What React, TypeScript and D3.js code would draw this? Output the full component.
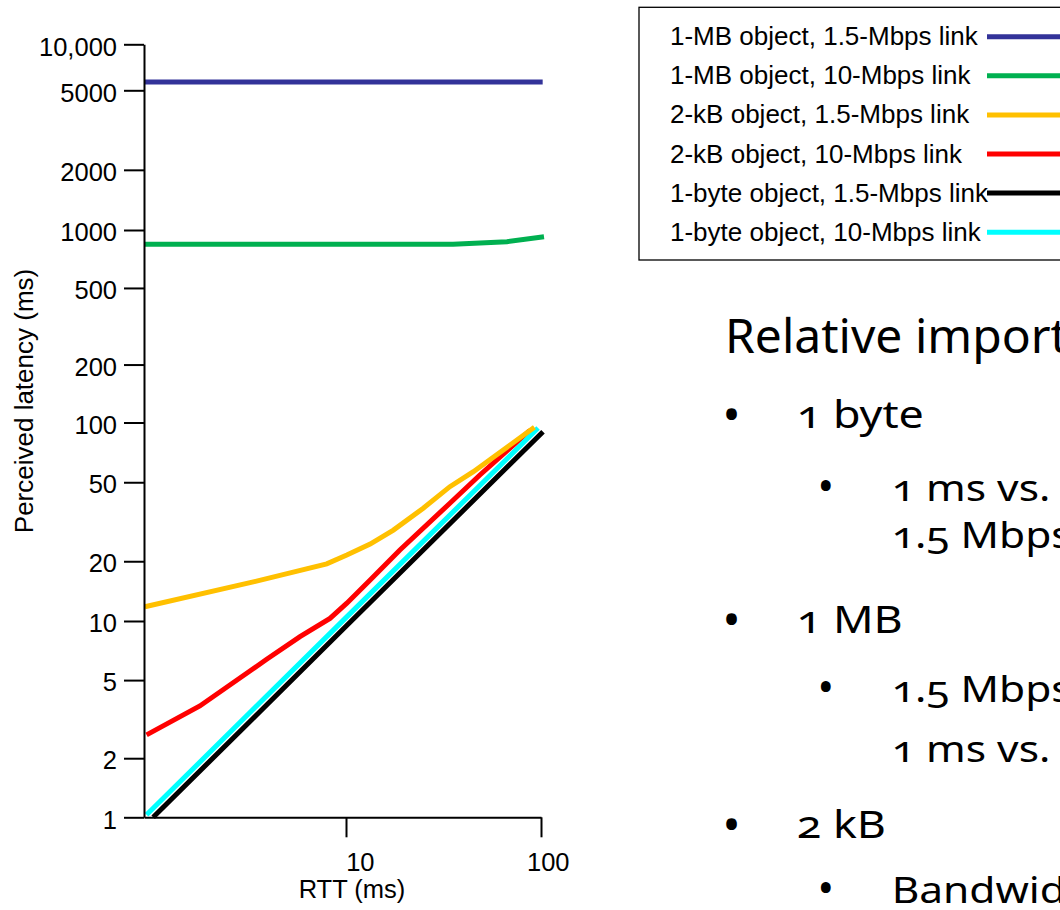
import React, { useRef, useEffect } from 'react';
import * as d3 from 'd3';

// RTT (ms) / perceived latency (ms) pairs
const rttMB15 = [1, 10, 102];
const latMB15 = [5670, 5670, 5670];
const rttMB10 = [1, 10, 35.4, 66.9, 103.6];
const latMB10 = [843, 843, 843, 869, 923];
const rttKB15 = [1.01, 3.35, 8.03, 10.1, 13.3, 17.5, 24.9, 34.1, 45.0, 92.5];
const latKB15 = [11.8, 15.6, 19.4, 21.5, 24.4, 28.7, 37.0, 47.5, 56.5, 94.6];
const rttKB10 = [1.03, 1.89, 4.05, 5.92, 8.33, 10.1, 13.3, 18.9, 34.1, 48.6, 87.8];
const latKB10 = [2.63, 3.69, 6.38, 8.32, 10.3, 12.3, 16.1, 22.8, 39.2, 54.4, 91.2];
const rttB15 = [1.11, 10, 102.4];
const latB15 = [1, 9.4, 89.9];
const rttB10 = [1.03, 10, 96.6];
const latB10 = [1.03, 10.4, 93.8];

const seriesLabels = [
  '1-MB object, 1.5-Mbps link',
  '1-MB object, 10-Mbps link',
  '2-kB object, 1.5-Mbps link',
  '2-kB object, 10-Mbps link',
  '1-byte object, 1.5-Mbps link',
  '1-byte object, 10-Mbps link',
];
const seriesColors = ['#333399', '#00b050', '#ffc000', '#ff0000', '#000000', '#00ffff'];
const drawOrder = [0, 1, 3, 5, 4, 2];

const yTicks = [1, 2, 5, 10, 20, 50, 100, 200, 500, 1000, 2000, 5000, 10000];
const yTickLabels = ['1', '2', '5', '10', '20', '50', '100', '200', '500', '1000', '2000', '5000', '10,000'];
const xTicks = [10, 100];
const xTickLabels = ['10', '100'];

// bullet text on the slide, cut by the right edge as in the original
const slideLines = [
  { level: 0, text: 'Relative importance' },
  { level: 1, text: '1 byte' },
  { level: 2, text: '1 ms vs.' },
  { level: 3, text: '1.5 Mbps' },
  { level: 1, text: '1 MB' },
  { level: 2, text: '1.5 Mbps' },
  { level: 3, text: '1 ms vs.' },
  { level: 1, text: '2 kB' },
  { level: 2, text: 'Bandwidth' },
];

const W = 1060;
const H = 910;
const FONT = '"Liberation Sans", Arial, sans-serif';
const SLIDE_FONT = '"Noto Sans", "Open Sans", sans-serif';

const App = () => {
  const xAxisRef = useRef(null);
  const yAxisRef = useRef(null);

  // the scan is slightly uneven, so the log scales are pinned at several ticks
  const xScale = d3.scaleLog().domain([1, 10, 100]).range([144, 346, 541]);
  const yScale = d3.scaleLog()
    .domain([1, 10, 100, 1000, 5000, 10000])
    .range([817.3, 621, 422.5, 230, 90.3, 44.3]);

  const series = [
    [rttMB15, latMB15], [rttMB10, latMB10], [rttKB15, latKB15],
    [rttKB10, latKB10], [rttB15, latB15], [rttB10, latB10],
  ].map(([xs, ys]) => xs.map((x, i) => [x, ys[i]]));

  const line = d3.line()
    .x(d => xScale(d[0]))
    .y(d => yScale(d[1]));

  useEffect(() => {
    const yAxis = d3.axisLeft(yScale)
      .tickValues(yTicks)
      .tickFormat((d, i) => yTickLabels[i])
      .tickSize(20)
      .tickSizeOuter(0)
      .tickPadding(7);
    const gy = d3.select(yAxisRef.current).call(yAxis);
    gy.attr('font-family', FONT).attr('font-size', 25.5);
    gy.selectAll('path, line').attr('stroke', '#000').attr('stroke-width', 2);
    gy.selectAll('text').attr('fill', '#000').attr('dy', '0.42em');

    const xAxis = d3.axisBottom(xScale)
      .tickValues(xTicks)
      .tickFormat((d, i) => xTickLabels[i])
      .tickSize(20)
      .tickSizeOuter(0)
      .tickPadding(16);
    const gx = d3.select(xAxisRef.current).call(xAxis);
    gx.attr('font-family', FONT).attr('font-size', 25.5);
    gx.selectAll('path, line').attr('stroke', '#000').attr('stroke-width', 2);
    gx.selectAll('text').attr('fill', '#000').attr('text-anchor', 'end').attr('dx', 28);
  }, []);

  const legendTop = 36.7;
  const legendStep = 39.1;

  // level 0 = heading, 1 = bullet, 2 = sub bullet, 3 = sub bullet continuation
  const levelX = [725, 796.7, 891.7, 891.7];
  const levelSize = [48, 39, 36, 36];
  const levelStretch = [1, 1.15, 1.18, 1.18];
  const bulletX = [null, 722.5, 817.5, null];
  const bulletSize = [0, 48, 44, 0];
  const bulletShift = [0, 3, 1, 0];
  const slideBaselines = [353.3, 428.3, 500.7, 548.3, 633.3, 701.7, 761.7, 838.3, 903];

  return (
    <svg width={W} height={H} style={{ position: 'absolute', left: 0, top: 0, background: '#fff' }}>
      <rect x={0} y={0} width={W} height={H} fill="#fff" />

      {/* plot */}
      <g fill="none" strokeWidth={5}>
        {drawOrder.map(i => (
          <path key={i} d={line(series[i])} stroke={seriesColors[i]} />
        ))}
      </g>
      <g ref={yAxisRef} transform={`translate(${xScale(1)},0)`} />
      <g ref={xAxisRef} transform={`translate(0,${yScale(1)})`} />

      <text
        transform={`translate(33.3,401) rotate(-90)`}
        textAnchor="middle"
        fontFamily={FONT}
        fontSize={26}
      >Perceived latency (ms)</text>
      <text x={352} y={898} textAnchor="middle" fontFamily={FONT} fontSize={25.5}>RTT (ms)</text>

      {/* legend */}
      <rect x={639} y={7.3} width={W} height={252.7} fill="#fff" stroke="#000" strokeWidth={1.3} />
      {seriesLabels.map((label, i) => {
        const cy = legendTop + legendStep * i;
        return (
          <g key={label}>
            <text x={670} y={cy + 8.5} fontFamily={FONT} fontSize={26}>{label}</text>
            <line x1={987} x2={W} y1={cy} y2={cy} stroke={seriesColors[i]} strokeWidth={5} />
          </g>
        );
      })}

      {/* slide text beside the chart */}
      <g fontFamily={SLIDE_FONT} style={{ fontVariantNumeric: 'oldstyle-nums' }} fill="#000">
        {slideLines.map((d, i) => {
          const y = slideBaselines[i];
          const bx = bulletX[d.level];
          return (
            <g key={i}>
              {bx !== null && (
                <text x={bx} y={y + bulletShift[d.level]} fontSize={bulletSize[d.level]}>•</text>
              )}
              <text
                transform={`translate(${levelX[d.level]},${y}) scale(${levelStretch[d.level]},1)`}
                fontSize={levelSize[d.level]}
              >{d.text}</text>
            </g>
          );
        })}
      </g>
    </svg>
  );
};

export default App;
